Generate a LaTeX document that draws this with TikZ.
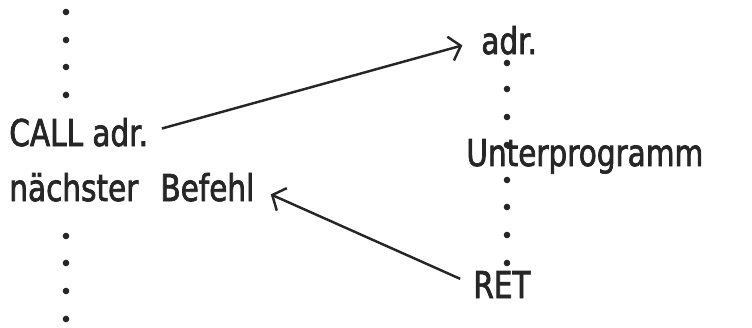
\documentclass[tikz,border=0pt]{standalone}
\usepackage{fontspec}
\setmainfont{DejaVu Sans}[FakeStretch=0.8, FakeBold=2]
\usetikzlibrary{arrows.meta, positioning}

\begin{document}
\begin{tikzpicture}[x=0.02cm, y=-0.02cm, black!85,
	txtstyle/.style={inner sep=0pt, font=\fontsize{21}{25}\selectfont},
	jump/.style={line width=1.4pt, -{Straight Barb[length=6pt, width=14pt, line width=1.4pt]}}
]
	\useasboundingbox (0,0) rectangle (752,328);

	\node[txtstyle, anchor=base west] at (9,146) (call) {CALL adr.};
	\node[txtstyle, anchor=base west] at (9,201) (next) {nächster\hspace{0.6em}Befehl};
	\node[txtstyle, anchor=base west] at (481,54) (entry) {adr.};
	\node[txtstyle, anchor=base west] at (466,166) (sub) {Unterprogramm};
	\node[txtstyle, anchor=base west] at (473,298) (ret) {RET};

	\foreach \y in {12,40,67,95,236,263,291,319}
		\fill (66,\y) circle (3.3);
	\foreach \y in {63,89,117,145,180,207,235,263}
		\fill (507,\y) circle (3.3);

	\draw[jump, shorten <=8pt, shorten >=11pt] (call.east) -- (entry.west);
	\draw[jump, shorten <=8pt, shorten >=10pt] (ret.west) -- (next.east);
\end{tikzpicture}
\end{document}
